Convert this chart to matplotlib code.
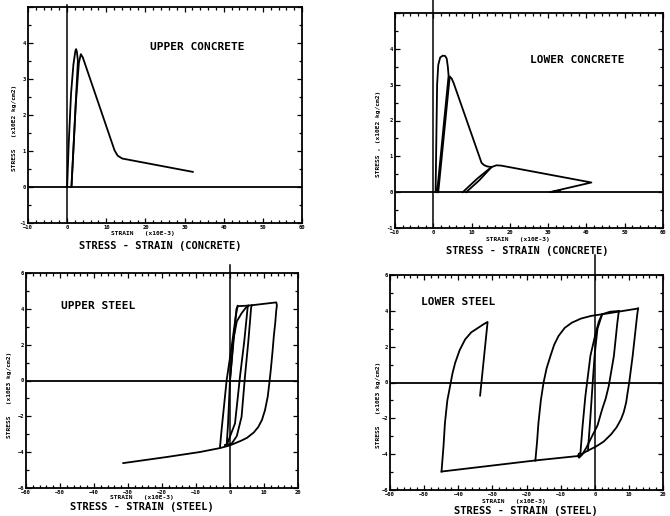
import numpy as np
import matplotlib
matplotlib.use("Agg")
import matplotlib.pyplot as plt
from matplotlib.ticker import MultipleLocator

plt.rcParams['font.family'] = ['DejaVu Sans Mono']
plt.rcParams['font.weight'] = 'bold'

# ---------------- data ----------------
# Upper concrete (strain x1e-3, stress x1e2 kg/cm2)
uc_strain_1 = [0.0, 0.4, 1.0, 1.6, 2.1, 2.3, 2.5, 2.75, 1.1]
uc_stress_1 = [0.0, 1.2, 2.6, 3.4, 3.78, 3.83, 3.75, 3.5, 0.0]
uc_strain_2 = [1.1, 1.4, 2.2, 3.0, 3.5, 4.0, 12.1, 12.9, 14.1, 32.1]
uc_stress_2 = [0.0, 0.6, 2.3, 3.45, 3.69, 3.6, 1.02, 0.87, 0.79, 0.42]

# Lower concrete
lc_strain_1 = [0.6, 0.8, 1.0, 1.3, 1.8, 2.5, 3.1, 3.5, 3.8, 4.0, 1.0]
lc_stress_1 = [0.0, 1.5, 3.0, 3.55, 3.76, 3.81, 3.8, 3.73, 3.5, 3.25, 0.0]
lc_strain_2 = [1.3, 4.3, 4.8, 5.3, 12.6, 13.2, 14.0, 15.2]
lc_stress_2 = [0.0, 3.23, 3.17, 3.05, 0.82, 0.76, 0.72, 0.70]
lc_strain_3 = [15.2, 11.5, 7.7]
lc_stress_3 = [0.70, 0.38, 0.0]
lc_strain_4 = [8.6, 12.0, 15.2, 16.5, 17.8, 41.3, 30.4, 33.0]
lc_stress_4 = [0.0, 0.33, 0.70, 0.75, 0.74, 0.27, 0.0, 0.03]

# Upper steel (strain x1e-3, stress x1e3 kg/cm2)
us_strain_a = [0.0, 1.9, 2.3, 4.5, 6.4, 10.0, 13.6, 13.8, 13.6, 13.3, 12.9,
               12.5, 12.0, 11.6, 11.1, 10.3, 9.4, 8.3, 7.0, 5.0, 3.4, 0.0,
               -2.9, -8.8, -18.6, -31.4]
us_stress_a = [0.0, 4.0, 4.15, 4.17, 4.2, 4.28, 4.36, 4.2, 3.9, 3.2, 2.5,
               1.6, 0.6, -0.1, -0.9, -1.65, -2.2, -2.6, -2.9, -3.2, -3.35, -3.62,
               -3.77, -3.99, -4.27, -4.61]
us_strain_b = [6.4, 6.2, 5.4, 4.4, 3.4, 2.0, 0.5, -1.5]
us_stress_b = [4.2, 4.04, 2.2, 0.22, -2.03, -3.1, -3.52, -3.6]
us_strain_c = [5.4, 5.2, 4.2, 2.94, 1.47, -0.98]
us_stress_c = [4.17, 4.1, 2.2, 0.22, -2.4, -3.61]
us_strain_d = [-2.94, -2.5, -0.98, 0.49, 1.7, 2.25]
us_stress_d = [-3.71, -2.8, 0.03, 1.9, 3.6, 4.17]
us_strain_e = [-0.98, -0.6, 0.0, 0.98, 2.0, 3.43, 4.6, 5.4]
us_stress_e = [-3.61, -2.5, 0.03, 2.27, 3.3, 3.76, 4.05, 4.17]

# Lower steel
ls_strain_b = [-4.2, -3.6, -2.75, -1.27, 0.2, 1.2, 2.16, 4.5, 7.06]
ls_stress_b = [-3.94, -2.5, -0.77, 1.49, 2.7, 3.4, 3.81, 3.95, 3.99]
ls_strain_c = [7.06, 6.6, 5.6, 4.1, 3.2, 2.16, 0.8, -0.8, -2.5, -3.7, -4.6,
               -4.9, -4.7, -4.2]
ls_stress_c = [3.99, 3.3, 1.47, -0.2, -0.9, -1.5, -2.4, -3.0, -3.65, -4.03,
               -4.2, -4.1, -3.98, -3.94]
ls_strain_d = [12.7, 12.4, 11.7, 11.1, 10.1, 9.6, 9.2, 8.5, 7.7, 6.4, 4.8,
               2.6, 0.39, -2.5, -4.7, -17.4]
ls_stress_d = [4.13, 3.72, 2.5, 1.47, 0.0, -0.6, -1.12, -1.65, -2.05, -2.5,
               -2.89, -3.3, -3.57, -3.85, -4.1, -4.35]
ls_strain_e = [-17.4, -16.9, -16.5, -15.8, -15.0, -14.1, -13.0, -11.9, -10.6,
               -8.8, -6.7, -4.0, -0.98, 3.9, 12.7]
ls_stress_e = [-4.35, -3.3, -2.26, -1.0, 0.0, 0.8, 1.47, 2.1, 2.6,
               3.05, 3.34, 3.57, 3.72, 3.86, 4.13]
ls_strain_f = [-17.4, -44.9]
ls_stress_f = [-4.35, -4.97]
ls_strain_g = [-44.9, -44.3, -43.9, -43.2, -42.4, -41.7, -40.9, -39.6, -38.0,
               -36.2, -34.1, -32.6, -31.4, -33.6]
ls_stress_g = [-4.97, -3.5, -2.26, -1.0, -0.21, 0.5, 1.1, 1.8, 2.4,
               2.8, 3.06, 3.25, 3.38, -0.73]
ls_strain_h = [-2.0, -1.3, -0.6, 0.0, 0.8, 2.16]
ls_stress_h = [-3.8, -2.0, 0.0, 1.6, 3.0, 3.81]

conc_xticks = [-10, 0, 10, 20, 30, 40, 50, 60]
conc_yticks = [-1, 0, 1, 2, 3, 4]
steel_xticks = [-60, -50, -40, -30, -20, -10, 0, 10, 20]
steel_yticks = [-6, -4, -2, 0, 2, 4, 6]

# ---------------- figure ----------------
W, H = 670, 516
fig = plt.figure(figsize=(W / 100, H / 100), dpi=100)
fig.patch.set_facecolor('white')


def px_axes(l, r, t, b):
    return fig.add_axes([l / W, 1 - b / H, (r - l) / W, (b - t) / H])


def style(ax, xlim, ylim, xt, yt, xminor, yminor, vtop):
    ax.set_xlim(*xlim)
    ax.set_ylim(*ylim)
    ax.set_xticks(xt)
    ax.set_yticks(yt)
    ax.xaxis.set_minor_locator(MultipleLocator(xminor))
    ax.yaxis.set_minor_locator(MultipleLocator(yminor))
    ax.tick_params(which='both', direction='in', top=True, right=True,
                   labelsize=4, pad=1.5, width=0.9)
    ax.tick_params(which='major', length=3.5)
    ax.tick_params(which='minor', length=2)
    for s in ax.spines.values():
        s.set_linewidth(1.3)
    for lab in ax.get_xticklabels() + ax.get_yticklabels():
        lab.set_fontweight('bold')
    ax.axhline(0, color='black', lw=1.3)
    ax.axvline(0, ymin=0, ymax=vtop, color='black', lw=1.1, clip_on=False)


LW = 1.3

# Upper concrete
ax1 = px_axes(28, 302, 7, 223)
style(ax1, (-10, 60), (-1, 5), conc_xticks, conc_yticks + [5], 2, 0.5, 1.01)
ax1.set_yticklabels([str(v) for v in conc_yticks] + [''])
ax1.plot(uc_strain_1, uc_stress_1, color='black', lw=LW)
ax1.plot(uc_strain_2, uc_stress_2, color='black', lw=LW)
ax1.text(33.3, 3.9, 'UPPER CONCRETE', fontsize=8, fontweight='bold',
         ha='center', va='center')

# Lower concrete
ax2 = px_axes(395, 663, 13, 228)
style(ax2, (-10, 60), (-1, 5), conc_xticks, conc_yticks + [5], 2, 0.5, 1.06)
ax2.set_yticklabels([str(v) for v in conc_yticks] + [''])
for xs, ys in [(lc_strain_1, lc_stress_1), (lc_strain_2, lc_stress_2),
               (lc_strain_3, lc_stress_3), (lc_strain_4, lc_stress_4)]:
    ax2.plot(xs, ys, color='black', lw=LW)
ax2.text(37.7, 3.69, 'LOWER CONCRETE', fontsize=8, fontweight='bold',
         ha='center', va='center')

# Upper steel
ax3 = px_axes(26, 298, 273, 488)
style(ax3, (-60, 20), (-6, 6), steel_xticks, steel_yticks, 2, 1, 1.037)
for xs, ys in [(us_strain_a, us_stress_a), (us_strain_b, us_stress_b),
               (us_strain_c, us_stress_c), (us_strain_d, us_stress_d),
               (us_strain_e, us_stress_e)]:
    ax3.plot(xs, ys, color='black', lw=LW)
ax3.text(-38.7, 4.15, 'UPPER STEEL', fontsize=8, fontweight='bold',
         ha='center', va='center')

# Lower steel
ax4 = px_axes(390, 663, 275, 490)
style(ax4, (-60, 20), (-6, 6), steel_xticks, steel_yticks, 2, 1, 1.093)
for xs, ys in [(ls_strain_b, ls_stress_b), (ls_strain_c, ls_stress_c),
               (ls_strain_d, ls_stress_d), (ls_strain_e, ls_stress_e),
               (ls_strain_f, ls_stress_f), (ls_strain_g, ls_stress_g),
               (ls_strain_h, ls_stress_h)]:
    ax4.plot(xs, ys, color='black', lw=LW)
ax4.text(-40, 4.48, 'LOWER STEEL', fontsize=8, fontweight='bold',
         ha='center', va='center')


def ftext(x, y, s, **kw):
    fig.text(x / W, 1 - y / H, s, ha='center', va='center',
             fontweight='bold', **kw)


# axis labels
ftext(143, 234, 'STRAIN   (x10E-3)', fontsize=4.5)
ftext(160, 246, 'STRESS - STRAIN (CONCRETE)', fontsize=7.5)
ftext(15, 128, 'STRESS   (x10E2 kg/cm2)', fontsize=4.5, rotation=90)

ftext(518, 240, 'STRAIN   (x10E-3)', fontsize=4.5)
ftext(527, 251, 'STRESS - STRAIN (CONCRETE)', fontsize=7.5)
ftext(378, 134, 'STRESS , (x10E2 kg/cm2)', fontsize=4.5, rotation=90)

ftext(142, 498, 'STRAIN   (x10E-3)', fontsize=4.5)
ftext(142, 507, 'STRESS - STRAIN (STEEL)', fontsize=7.5)
ftext(10, 395, 'STRESS   (x10E3 kg/cm2)', fontsize=4.5, rotation=90)

ftext(514, 501, 'STRAIN   (x10E-3)', fontsize=4.5)
ftext(526, 511, 'STRESS - STRAIN (STEEL)', fontsize=7.5)
ftext(378, 405, 'STRESS   (x10E3 kg/cm2)', fontsize=4.5, rotation=90)

fig.savefig('out.png', dpi=100, facecolor='white')
